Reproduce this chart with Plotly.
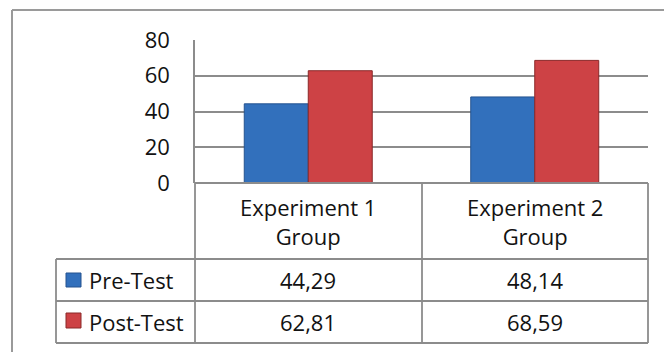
import plotly.graph_objects as go

categories = ["Experiment 1<br>Group", "Experiment 2<br>Group"]
series_names = ["Pre-Test", "Post-Test"]
pre_test = [44.29, 48.14]
post_test = [62.81, 68.59]
y_ticks = [0, 20, 40, 60, 80]

W, H = 664, 352
L, R, T, B = 195, 16, 40, 169
PW, PH = W - L - R, H - T - B

def px(x):
    return (x - L) / PW

def py(y):
    return (H - B - y) / PH

FONT = "Open Sans"
FW = 500
TXT = "#121212"
GRID = "#8c8c8c"
BLUE, BLUE_EDGE = "#3270BC", "#24538f"
RED, RED_EDGE = "#CD4245", "#8a2829"
FNT = dict(family=FONT, size=22, color=TXT, weight=FW)

fig = go.Figure()
fig.add_trace(go.Bar(x=categories, y=pre_test, name=series_names[0],
                     marker=dict(color=BLUE, line=dict(color=BLUE_EDGE, width=1))))
fig.add_trace(go.Bar(x=categories, y=post_test, name=series_names[1],
                     marker=dict(color=RED, line=dict(color=RED_EDGE, width=1))))

fig.update_layout(
    width=W, height=H,
    margin=dict(l=L, r=R, t=T, b=B, pad=0),
    paper_bgcolor="white", plot_bgcolor="white",
    barmode="group", bargap=0.435, bargroupgap=0,
    showlegend=False,
    font=FNT,
)
fig.update_xaxes(showticklabels=False, showgrid=False, showline=False,
                 zeroline=False, range=[-0.5, 1.5])
fig.update_yaxes(range=[0, 80], tickvals=y_ticks, showgrid=True, gridcolor=GRID,
                 gridwidth=1.5, zeroline=False, showline=True, linecolor=GRID,
                 linewidth=1.5, ticks="", ticklabelstandoff=19,
                 tickfont=FNT)

shapes = []
def line(x0, y0, x1, y1, color=GRID, width=1.8):
    shapes.append(dict(type="line", xref="paper", yref="paper",
                       x0=px(x0), y0=py(y0), x1=px(x1), y1=py(y1),
                       line=dict(color=color, width=width)))

# outer chart border
line(12, 10, 680, 10, color="#9a9a9a", width=2)
line(12, 10, 12, 370, color="#9a9a9a", width=2)

# data table grid
line(195, 183, 648, 183)
for yy in (259, 301, 343):
    line(56, yy, 648, yy)
line(56, 259, 56, 343)
line(195, 183, 195, 343)
line(422, 183, 422, 343)
line(648, 183, 648, 343)

# legend keys
for (y0, y1), c, e in (((273, 287), BLUE, BLUE_EDGE), ((313, 328), RED, RED_EDGE)):
    shapes.append(dict(type="rect", xref="paper", yref="paper",
                       x0=px(66), x1=px(81), y0=py(y1), y1=py(y0),
                       fillcolor=c, line=dict(color=e, width=1)))

annotations = []
for c in categories:
    annotations.append(dict(x=c, xref="x", y=py(221), yref="paper", text=c,
                            showarrow=False, xanchor="center", yanchor="middle",
                            font=FNT))
row_y = [280, 322]
for name, vals, ry in zip(series_names, [pre_test, post_test], row_y):
    annotations.append(dict(x=px(87), xref="paper", y=py(ry), yref="paper", text=name,
                            showarrow=False, xanchor="left", yanchor="middle",
                            font=FNT))
    for c, v in zip(categories, vals):
        annotations.append(dict(x=c, xref="x", y=py(ry), yref="paper",
                                text=f"{v:.2f}".replace(".", ","),
                                showarrow=False, xanchor="center", yanchor="middle",
                                font=FNT))

fig.update_layout(shapes=shapes, annotations=annotations)
fig.write_html("out.html")
